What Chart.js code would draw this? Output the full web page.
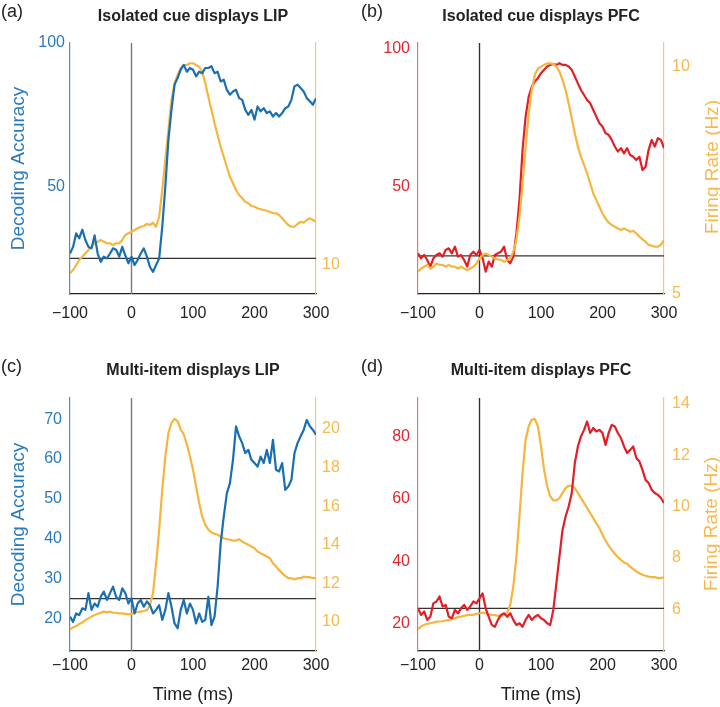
<!DOCTYPE html>
<html>
<head>
<meta charset="utf-8">
<script src="https://cdn.jsdelivr.net/npm/chart.js@4.4.1/dist/chart.umd.min.js"></script>
<style>
body { margin: 0; background: #fff; }
#fig { position: relative; width: 720px; height: 707px; font-family: "Liberation Sans", Arial, Helvetica, sans-serif; }
#fig canvas { position: absolute; }
.lbl { position: absolute; font-size: 18px; line-height: 18px; color: #222; }
.ttl { position: absolute; font-size: 16px; font-weight: bold; line-height: 16px; color: #222; transform: translateX(-50%); white-space: nowrap; }
.fr { position: absolute; font-size: 19px; line-height: 19px; color: #f6b94d; white-space: nowrap; transform: translate(-50%, -50%) rotate(-90deg); }
</style>
</head>
<body>
<div id="fig">
  <canvas id="panelA" width="360" height="330" style="left:0;top:0"></canvas>
  <canvas id="panelB" width="360" height="330" style="left:360px;top:0"></canvas>
  <canvas id="panelC" width="360" height="377" style="left:0;top:330px"></canvas>
  <canvas id="panelD" width="360" height="377" style="left:360px;top:330px"></canvas>
  <div class="lbl" style="left:1px;top:2px">(a)</div>
  <div class="lbl" style="left:361px;top:2px">(b)</div>
  <div class="lbl" style="left:1px;top:357px">(c)</div>
  <div class="lbl" style="left:361px;top:357px">(d)</div>
  <div class="ttl" style="left:193px;top:8px">Isolated cue displays LIP</div>
  <div class="ttl" style="left:541px;top:8px">Isolated cue displays PFC</div>
  <div class="ttl" style="left:193px;top:362px">Multi-item displays LIP</div>
  <div class="ttl" style="left:541px;top:362px">Multi-item displays PFC</div>
  <div class="fr" style="left:711px;top:167px">Firing Rate (Hz)</div>
  <div class="fr" style="left:710px;top:524px">Firing Rate (Hz)</div>
</div>
<script>
// time axis (ms), one value every 5 ms
const times = [-100,-95,-90,-85,-80,-75,-70,-65,-60,-55,-50,-45,-40,-35,-30,-25,-20,-15,-10,-5,
  0,5,10,15,20,25,30,35,40,45,50,55,60,65,70,75,80,85,90,95,
  100,105,110,115,120,125,130,135,140,145,150,155,160,165,170,175,180,185,190,195,
  200,205,210,215,220,225,230,235,240,245,250,255,260,265,270,275,280,285,290,295,300]

// (a) isolated cue, LIP
const lipCueAccuracy = [26.7,29,33.7,32,35,31.4,29,28.5,33,26.7,23.8,25.6,25,26.7,28.5,28,25.6,29,26,23.3,
  25.6,22.7,24.4,26.7,28.5,25.6,22,20.3,22.7,25,36,50,66.3,76.7,85.5,87.8,90.7,92.4,90,91.3,
  90.7,88.4,90,89.5,91.3,91.3,91.9,89.5,90,86.6,87.2,83.7,82,83.1,83.7,80.8,80.2,76.7,75,76.7,
  73.3,77.9,76.2,77.3,75.6,76.2,74.4,75.6,74.4,75.6,77.3,77.9,80.2,84.9,85.5,84.3,83.1,80.8,79.7,78.5,80.8]
const lipCueRate = [9.67,9.8,10,10.2,10.33,10.47,10.6,10.73,10.87,10.93,11,10.93,10.87,10.87,10.8,10.87,10.87,11,11.2,11.27,
  11.33,11.4,11.47,11.53,11.56,11.64,11.6,11.69,11.53,11.93,13,14.2,15.4,16.6,17.27,17.6,17.87,18,18,18.07,
  18.07,18,17.93,17.73,17.27,16.73,16.2,15.67,15.2,14.73,14.33,13.93,13.53,13.27,13,12.8,12.67,12.53,12.47,12.36,
  12.33,12.27,12.23,12.2,12.17,12.13,12.07,12.07,12,11.87,11.73,11.6,11.53,11.53,11.64,11.73,11.69,11.8,11.87,11.8,11.73]

// (b) isolated cue, PFC
const pfcCueAccuracy = [25.9,24.1,25.3,23.5,21.1,24.1,25.3,25.9,24.7,27.1,27.7,25.9,28.3,24.7,25.3,23.5,21.1,25.3,26.5,25.3,
  27.1,24.1,19.3,22.9,21.1,25.3,25.9,26.5,28.3,23.5,22.3,24.7,33.1,45.2,63.3,75.3,82.5,86.1,88,89.2,
  91,92.2,93.4,94,94.3,94,94.6,94,94,93.4,92.2,89.8,87.3,84.9,83.1,81.3,80.1,77.7,75.3,72.9,
  71.7,69.3,68.7,66.9,64.5,62.7,63.9,62,63.9,61.4,60.8,59.6,60.8,56,57.2,63.3,66.9,64.5,67.5,66.9,63.9]
const pfcCueRate = [5.49,5.56,5.6,5.64,5.56,5.6,5.67,5.64,5.64,5.6,5.64,5.6,5.6,5.56,5.6,5.56,5.53,5.56,5.6,5.67,
  5.78,5.86,5.89,5.86,5.82,5.78,5.76,5.75,5.71,5.75,5.78,5.93,6.19,6.7,7.43,8.24,8.97,9.49,9.82,9.96,
  10,10.04,10.07,10.07,10.06,10,9.89,9.71,9.49,9.19,8.86,8.53,8.24,8.02,7.84,7.65,7.43,7.21,7.07,6.92,
  6.77,6.66,6.57,6.52,6.48,6.44,6.41,6.44,6.41,6.37,6.39,6.33,6.26,6.2,6.15,6.08,6.06,6.04,6.04,6.08,6.19]

// (c) multi-item, LIP
const lipMultiAccuracy = [20.5,19.2,21.3,20.9,22.6,22.2,26.4,22.2,23.8,23,25.5,26.8,24.7,26.4,28,25.5,24.7,27.6,26.4,23.8,
  25.1,21.3,23.8,24.7,23,24.3,23.4,21.3,22.2,23.4,19.7,22.2,26.4,23,18.8,17.6,22.2,24.7,21.3,23.8,
  22.2,18.8,21.3,19.2,19.7,25.5,18.4,20.5,28,38.9,45.6,51.4,53.9,59.8,68.2,65.7,64,61.5,62.3,59.8,
  59,58.1,60.6,59,62.3,59,64.8,57.3,56.9,59,52.3,53.1,54.8,61.5,64,65.7,67.3,69.8,68.2,67.3,66.1]
const lipMultiRate = [9.62,9.72,9.79,9.9,9.97,10.1,10.19,10.28,10.36,10.42,10.48,10.54,10.5,10.54,10.48,10.48,10.45,10.45,10.42,10.4,
  10.42,10.48,10.52,10.54,10.57,10.62,10.88,11.49,13.04,14.78,16.85,18.58,19.79,20.31,20.52,20.4,19.97,19.71,19.19,18.58,
  17.89,17.02,16.16,15.47,15.03,14.78,14.64,14.57,14.52,14.43,14.34,14.29,14.26,14.22,14.22,14.29,14.17,14.08,14,13.91,
  13.82,13.65,13.56,13.48,13.39,13.3,13.04,12.87,12.7,12.53,12.39,12.27,12.27,12.21,12.27,12.27,12.35,12.32,12.32,12.27,12.27]

// (d) multi-item, PFC
const pfcMultiAccuracy = [25,22.9,24,21.3,22.3,26.6,27.2,28.8,25.6,26.1,22.3,21.8,24.5,23.4,25,26.1,24.5,25.6,27.2,26.6,
  28.2,29.8,25,22.3,19.7,19.1,21.3,22.9,23.4,22.3,23.4,21.3,19.7,20.2,19.1,21.3,22.9,21.3,22.3,22.9,
  21.8,21.3,20.2,19.7,24.5,33,41.6,50.1,54.4,57.6,61.9,71.5,76.8,80,82.1,84.8,81.1,82.7,81.6,82.1,
  81.1,77.3,81.1,83.7,83.2,81.1,79.5,76.8,74.7,75.7,76.8,73.1,72,69.3,66.1,65.1,62.9,61.9,61.3,60.3,58.7]
const pfcMultiRate = [5.22,5.32,5.39,5.43,5.45,5.48,5.51,5.52,5.53,5.56,5.58,5.61,5.65,5.69,5.71,5.74,5.77,5.78,5.78,5.82,
  5.84,5.87,5.84,5.8,5.78,5.77,5.74,5.74,5.78,5.87,6.17,6.88,8.05,9.62,11.31,12.61,13.13,13.39,13.41,13.13,
  12.35,11.44,10.79,10.4,10.24,10.24,10.33,10.53,10.72,10.81,10.81,10.72,10.53,10.33,10.14,9.94,9.75,9.55,9.35,9.16,
  8.9,8.68,8.47,8.31,8.16,8.03,7.92,7.82,7.77,7.66,7.56,7.47,7.4,7.34,7.3,7.27,7.25,7.25,7.21,7.21,7.25]

// tick labels
const timeTicks = [-100, 0, 100, 200, 300]
const lipCueAccTicks = [50, 100]
const lipCueRateTicks = [10]
const pfcCueAccTicks = [50, 100]
const pfcCueRateTicks = [5, 10]
const lipMultiAccTicks = [20, 30, 40, 50, 60, 70]
const lipMultiRateTicks = [10, 12, 14, 16, 18, 20]
const pfcMultiAccTicks = [20, 40, 60, 80]
const pfcMultiRateTicks = [6, 8, 10, 12, 14]

const chanceLevel = 25
const onsetTime = 0

const fontFamily = '"Liberation Sans", Arial, Helvetica, sans-serif'
const blue = { line: "#1a6fb3", text: "#2a7bbd", axis: "#4a91c9" }
const red = { line: "#e31e26", text: "#e2262e", axis: "#e8717a" }
const orange = { line: "#f6b63e", text: "#f6b94d", axis: "#f8c770" }

function fixTicks(values) {
    return (scale) => { scale.ticks = values.map((v) => ({ value: v })) }
}

function makePanel(p) {
    const toPoints = (vals) => times.map((t, i) => ({ x: t, y: vals[i] }))
    const lineStyle = { pointRadius: 0, fill: false, tension: 0, borderJoinStyle: "round" }

    const datasets = [
        { ...lineStyle, data: toPoints(p.acc), yAxisID: "yL", borderColor: p.color.line, borderWidth: 2.2, order: p.accOrder },
        { ...lineStyle, data: toPoints(p.rate), yAxisID: "yR", borderColor: orange.line, borderWidth: 2.2, order: p.rateOrder },
        { ...lineStyle, data: [{ x: times[0], y: chanceLevel }, { x: times[times.length - 1], y: chanceLevel }],
          yAxisID: "yL", borderColor: "#333", borderWidth: 1.2, order: 5 },
        { ...lineStyle, data: [{ x: onsetTime, y: p.accRange[0] }, { x: onsetTime, y: p.accRange[1] }],
          yAxisID: "yL", borderColor: p.zeroColor, borderWidth: 1.4, order: 6 }
    ]

    const config = {
        type: "line",
        data: { datasets: datasets },
        options: {
            responsive: false,
            animation: false,
            devicePixelRatio: 1,
            layout: { padding: { top: p.top, left: 0, right: 0, bottom: 0 } },
            plugins: { legend: { display: false }, tooltip: { enabled: false } },
            scales: {
                x: {
                    type: "linear",
                    position: "bottom",
                    min: -100,
                    max: 300,
                    grid: { display: false, drawTicks: false },
                    border: { display: true, color: "#222", width: 1.2 },
                    afterBuildTicks: fixTicks(timeTicks),
                    afterFit: (s) => { s.height = p.xHeight },
                    ticks: {
                        color: "#222",
                        font: { family: fontFamily, size: 16 },
                        padding: p.xPad,
                        maxRotation: 0,
                        autoSkip: false,
                        callback: (v) => String(v).replace("-", "\u2212")
                    },
                    title: {
                        display: p.showTime,
                        text: "Time (ms)",
                        color: "#222",
                        font: { family: fontFamily, size: 18, lineHeight: 1 },
                        padding: { top: 0, bottom: 2.6 }
                    }
                },
                yL: {
                    type: "linear",
                    position: "left",
                    min: p.accRange[0],
                    max: p.accRange[1],
                    grid: { display: false, drawTicks: false },
                    border: { display: true, color: p.color.axis, width: 1.2 },
                    afterBuildTicks: fixTicks(p.accTicks),
                    afterFit: (s) => { s.width = p.leftW },
                    ticks: { color: p.color.text, font: { family: fontFamily, size: 16 }, padding: p.leftPad },
                    title: {
                        display: p.showAccTitle,
                        text: "Decoding Accuracy",
                        color: p.color.text,
                        font: { family: fontFamily, size: 19, lineHeight: 1 },
                        padding: { top: 9.5, bottom: 0 }
                    }
                },
                yR: {
                    type: "linear",
                    position: "right",
                    min: p.rateRange[0],
                    max: p.rateRange[1],
                    grid: { display: false, drawTicks: false },
                    border: { display: true, color: orange.axis, width: 1.2 },
                    afterBuildTicks: fixTicks(p.rateTicks),
                    afterFit: (s) => { s.width = p.rightW },
                    ticks: { color: orange.text, font: { family: fontFamily, size: 16 }, padding: p.rightPad }
                }
            }
        }
    }
    return new Chart(document.getElementById(p.id), config)
}

makePanel({
    id: "panelA", acc: lipCueAccuracy, rate: lipCueRate, color: blue, zeroColor: "#777",
    accRange: [12.6, 100], rateRange: [8.84, 18.88], accTicks: lipCueAccTicks, rateTicks: lipCueRateTicks,
    accOrder: 1, rateOrder: 2, top: 43, xHeight: 36, leftW: 70, rightW: 44,
    xPad: 10, leftPad: 5, rightPad: 6, showTime: false, showAccTitle: true
})

makePanel({
    id: "panelB", acc: pfcCueAccuracy, rate: pfcCueRate, color: red, zeroColor: "#333",
    accRange: [11.2, 101.9], rateRange: [5, 10.52], accTicks: pfcCueAccTicks, rateTicks: pfcCueRateTicks,
    accOrder: 2, rateOrder: 1, top: 43, xHeight: 36, leftW: 58, rightW: 56,
    xPad: 10, leftPad: 8, rightPad: 8, showTime: false, showAccTitle: false
})

makePanel({
    id: "panelC", acc: lipMultiAccuracy, rate: lipMultiRate, color: blue, zeroColor: "#777",
    accRange: [11.9, 75.3], rateRange: [8.5, 21.6], accTicks: lipMultiAccTicks, rateTicks: lipMultiRateTicks,
    accOrder: 1, rateOrder: 2, top: 68, xHeight: 56, leftW: 70, rightW: 44,
    xPad: 4.5, leftPad: 8, rightPad: 6, showTime: true, showAccTitle: true
})

makePanel({
    id: "panelD", acc: pfcMultiAccuracy, rate: pfcMultiRate, color: red, zeroColor: "#333",
    accRange: [11.35, 92.3], rateRange: [4.37, 14.23], accTicks: pfcMultiAccTicks, rateTicks: pfcMultiRateTicks,
    accOrder: 1, rateOrder: 2, top: 68, xHeight: 56, leftW: 58, rightW: 56,
    xPad: 4.5, leftPad: 8, rightPad: 8, showTime: true, showAccTitle: false
})
</script>
</body>
</html>
